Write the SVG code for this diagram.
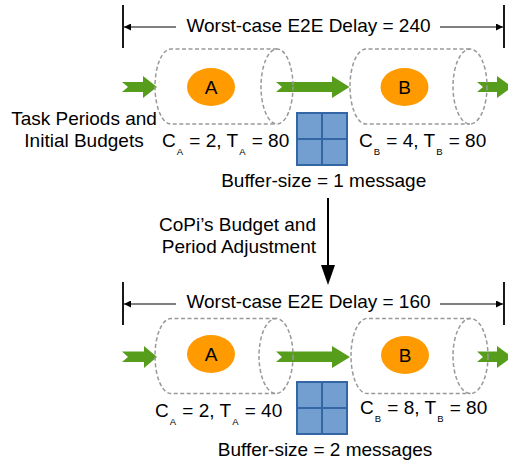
<svg xmlns="http://www.w3.org/2000/svg" width="508" height="463" viewBox="0 0 508 463">
<defs>
<style>
text{font-family:"Liberation Sans",Arial,sans-serif;font-size:19px;fill:#000}
.sub{font-size:9.5px}
.cyl{fill:none;stroke:#999;stroke-width:1.5;stroke-dasharray:4 2.5}
.task{fill:#ff9a00}
.green{fill:#579d1c}
.buf{fill:#729fcf;stroke:#3465a4;stroke-width:2}
.dim{stroke:#000;stroke-width:1.2;fill:none}
.bar{stroke:#000;stroke-width:1.8}
</style>
<marker id="ah" viewBox="0 0 10 10" refX="10" refY="5" markerWidth="18" markerHeight="7" markerUnits="userSpaceOnUse" orient="auto">
<path d="M0,0 L10,5 L0,10 z" fill="#000"/>
</marker>
</defs>

<g id="connectors">
<!-- top dimension -->
<line class="bar" x1="123" y1="5" x2="123" y2="48"/>
<line class="bar" x1="504" y1="5" x2="504" y2="48"/>
<line class="dim" x1="176" y1="27" x2="124" y2="27" marker-end="url(#ah)"/>
<line class="dim" x1="440" y1="27" x2="503" y2="27" marker-end="url(#ah)"/>
<!-- bottom dimension -->
<line class="bar" x1="123" y1="282" x2="123" y2="325"/>
<line class="bar" x1="504" y1="282" x2="504" y2="325"/>
<line class="dim" x1="176" y1="304" x2="124" y2="304" marker-end="url(#ah)"/>
<line class="dim" x1="440" y1="304" x2="503" y2="304" marker-end="url(#ah)"/>
<!-- green flow arrows top -->
<polygon class="green" points="122,82 143,82 143,76 157,87 143,98 143,92 122,92 128,87"/>
<polygon class="green" points="276,82 332,82 332,76 349.5,87 332,98 332,92 276,92 282,87"/>
<polygon class="green" points="477,82 497,82 497,76 512,87 497,98 497,92 477,92 483,87"/>
<!-- green flow arrows bottom -->
<polygon class="green" points="122,351.5 144,351.5 144,346 157,357 144,368 144,362 122,362 128,357"/>
<polygon class="green" points="276,351.5 332,351.5 332,346 350,357 332,368 332,362 276,362 282,357"/>
<polygon class="green" points="477,351.5 497,351.5 497,346 512,357 497,368 497,362 477,362 483,357"/>
<!-- CoPi adjustment arrow -->
<line x1="328" y1="198" x2="328" y2="268" stroke="#000" stroke-width="2"/>
<polygon points="321,265 335,265 328,285" fill="#000"/>
</g>

<g id="taskA-top">
<path class="cyl" d="M277,49 H171 A16,37.5 0 0 0 171,124 H277"/>
<ellipse class="cyl" cx="277" cy="86.5" rx="16" ry="37.5"/>
<ellipse class="task" cx="211" cy="87" rx="24" ry="19"/>
<text x="211" y="94" text-anchor="middle">A</text>
</g>
<g id="taskB-top">
<path class="cyl" d="M470,49 H366 A16,37.5 0 0 0 366,124 H470"/>
<ellipse class="cyl" cx="470" cy="86.5" rx="17" ry="37.5"/>
<ellipse class="task" cx="404.5" cy="87" rx="24" ry="19"/>
<text x="404.5" y="94" text-anchor="middle">B</text>
</g>
<g id="buffer-top">
<rect class="buf" x="297" y="113" width="50" height="52"/>
<line class="buf" x1="322" y1="113" x2="322" y2="165"/>
<line class="buf" x1="297" y1="139" x2="347" y2="139"/>
</g>

<g id="taskA-bottom">
<path class="cyl" d="M276,318.5 H171 A16,37.5 0 0 0 171,393.5 H276"/>
<ellipse class="cyl" cx="276" cy="356" rx="17" ry="37.5"/>
<ellipse class="task" cx="211" cy="354" rx="24" ry="19"/>
<text x="211" y="361" text-anchor="middle">A</text>
</g>
<g id="taskB-bottom">
<path class="cyl" d="M470.5,318.5 H367 A16,37.5 0 0 0 367,393.5 H470.5"/>
<ellipse class="cyl" cx="470.5" cy="356" rx="17.5" ry="37.5"/>
<ellipse class="task" cx="405" cy="355" rx="24" ry="19"/>
<text x="405" y="362" text-anchor="middle">B</text>
</g>
<g id="buffer-bottom">
<rect class="buf" x="297" y="382" width="50" height="52"/>
<line class="buf" x1="322" y1="382" x2="322" y2="434"/>
<line class="buf" x1="297" y1="408" x2="347" y2="408"/>
</g>

<g id="labels">
<text x="308.5" y="32" text-anchor="middle">Worst-case E2E Delay = 240</text>
<text x="84" y="125" text-anchor="middle">Task Periods and</text>
<text x="84" y="147" text-anchor="middle">Initial Budgets</text>
<text x="162" y="147">C<tspan class="sub" dy="8" dx="1">A</tspan><tspan dy="-8" dx="1"> = 2, T</tspan><tspan class="sub" dy="8" dx="1">A</tspan><tspan dy="-8" dx="1"> = 80</tspan></text>
<text x="359" y="147">C<tspan class="sub" dy="8" dx="1">B</tspan><tspan dy="-8" dx="1"> = 4, T</tspan><tspan class="sub" dy="8" dx="1">B</tspan><tspan dy="-8" dx="1"> = 80</tspan></text>
<text x="323.7" y="187" text-anchor="middle">Buffer-size = 1 message</text>
<text x="316" y="231" text-anchor="end">CoPi’s Budget and</text>
<text x="316" y="253" text-anchor="end">Period Adjustment</text>
<text x="308.5" y="308" text-anchor="middle">Worst-case E2E Delay = 160</text>
<text x="155" y="417">C<tspan class="sub" dy="8" dx="1">A</tspan><tspan dy="-8" dx="1"> = 2, T</tspan><tspan class="sub" dy="8" dx="1">A</tspan><tspan dy="-8" dx="1"> = 40</tspan></text>
<text x="360" y="413.5">C<tspan class="sub" dy="8" dx="1">B</tspan><tspan dy="-8" dx="1"> = 8, T</tspan><tspan class="sub" dy="8" dx="1">B</tspan><tspan dy="-8" dx="1"> = 80</tspan></text>
<text x="325" y="456" text-anchor="middle">Buffer-size = 2 messages</text>
</g>
</svg>
